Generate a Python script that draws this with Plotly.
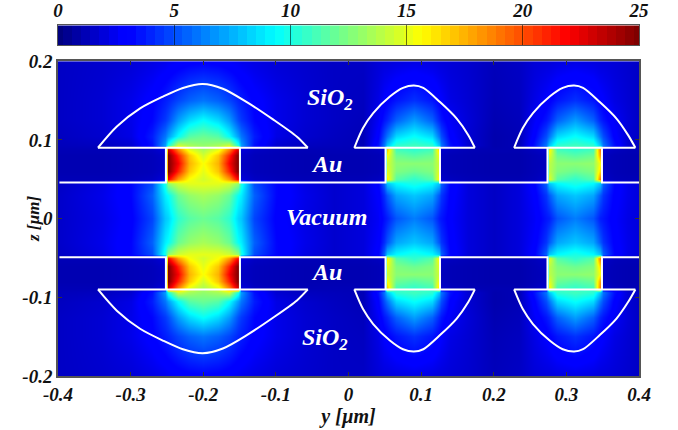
import numpy as np
import plotly.graph_objects as go

Y_COLS = [-0.40,-0.34,-0.30,-0.27,-0.252,-0.248,-0.235,-0.22,-0.20,-0.18,-0.165,-0.152,-0.148,-0.13,-0.10,-0.06,-0.02,
          0.02,0.04,0.049,0.053,0.065,0.09,0.115,0.124,0.128,0.14,0.165,0.20,
          0.235,0.255,0.272,0.276,0.287,0.312,0.337,0.346,0.350,0.365,0.385,0.40]
Z_ROWS = [0,0.03,0.045,0.05,0.06,0.07,0.08,0.088,0.093,0.105,0.125,0.15,0.2]
FIELD_TOP = [
 [1.6,2.2,3.0,4.8,8.0,8.4,10.5,11.5,12.0,11.5,10.5,8.4,8.0,4.8,3.0,2.2,1.7, 2.0,2.6,3.4,3.8,5.2,6.2,5.2,3.8,3.6,2.8,2.0,1.5, 2.0,2.6,3.6,3.8,5.2,6.2,5.2,3.8,3.6,2.8,2.2,2.0],
 [1.6,2.3,3.2,5.5,9,9.5,12,13,13.5,13,12,9.5,9,5.5,3.2,2.3,1.7, 2.0,2.8,4.2,5.2,7.2,8,7.2,5.2,4.4,3,2,1.5, 2,2.8,4.4,5.3,7.2,8,7.2,5.3,4.4,3,2.3,2],
 [1.5,2.2,3.2,5,10,13,14.5,15,15,15,14.5,13,10,5,3.2,2.2,1.7, 2,3,5.5,8,9.3,10,9.3,8,5.5,3.2,2,1.5, 2,3,5.5,8,9.3,10,9.3,8,5.5,3.2,2.3,2],
 [1.2,1.2,1.3,1.5,2,22,18,15.5,14.5,15.5,18,22,2,1.5,1.3,1.2,1.2, 1.2,1.4,1.6,16,11.5,10.5,11.5,16,1.6,1.4,1.2,1.1, 1.1,1.3,1.6,15,11.5,10.5,11.5,19,1.6,1.3,1.2,1.2],
 [1.1,1.1,1.2,1.3,1.6,25,21,17,15,17,21,25,1.6,1.3,1.2,1.1,1.1, 1.1,1.2,1.4,15,12.5,12,12.5,15,1.4,1.2,1.1,1.0, 1.0,1.2,1.4,14,12.5,12,12.5,16.5,1.4,1.2,1.1,1.1],
 [1.1,1.1,1.2,1.3,1.5,25,22,17.5,15.5,17.5,22,25,1.5,1.3,1.2,1.1,1.1, 1.1,1.2,1.3,14.5,12.8,12.8,12.8,14.5,1.3,1.2,1.1,1.0, 1.0,1.2,1.3,14,12.8,12.8,13,15.5,1.3,1.2,1.1,1.1],
 [1.1,1.1,1.2,1.3,1.6,25,21,17,14.5,17,21,25,1.6,1.3,1.2,1.1,1.1, 1.1,1.2,1.4,15.5,12,11.5,12,15.5,1.4,1.2,1.1,1.0, 1.0,1.2,1.4,15,12,11.5,12,18,1.4,1.2,1.1,1.1],
 [1.2,1.2,1.3,1.5,2,23,18.5,15,13.5,15,18.5,23,2,1.5,1.3,1.2,1.2, 1.2,1.4,1.7,17,11,10.5,11,17,1.7,1.4,1.2,1.1, 1.1,1.4,1.7,16,11,10.5,11,19,1.7,1.4,1.2,1.2],
 [1.3,1.4,1.8,3.5,7,10,14.5,13.5,13,13.5,14.5,10,7,3.5,1.8,1.4,1.3, 1.2,3.5,6,8,10.5,11,10.5,8,6,3.5,1.8,1.0, 1.2,3.5,6,8,10.5,11,10.5,8,6,3.5,1.8,1.5],
 [1.4,1.7,2.2,3.8,6,7,9.5,11.5,12,11.5,9.5,7,6,3.8,2.2,1.7,1.4, 1.2,3,5,6,8.5,9.5,8.5,6,5,3,1.8,1.0, 1.2,3,5,6,8.5,9.5,8.5,6,5,3,1.8,1.5],
 [1.5,1.8,2.3,3.2,4.5,5,7,8.5,9.5,8.5,7,5,4.5,3.2,2.3,1.8,1.5, 1.3,2.6,3.6,4,5.5,7,5.5,4,3.6,2.6,1.9,1.1, 1.3,2.6,3.6,4,5.5,7,5.5,4,3.6,2.6,1.9,1.5],
 [1.5,1.8,2.3,3,3.8,4,4.8,5.5,6,5.5,4.8,4,3.8,3,2.3,1.8,1.5, 1.4,2.2,2.8,3,3.6,4.3,3.6,3,2.8,2.2,1.8,1.2, 1.4,2.2,2.8,3,3.6,4.3,3.6,3,2.8,2.2,1.8,1.5],
 [1.5,1.7,1.9,2.2,2.4,2.5,2.7,2.9,3,2.9,2.7,2.5,2.4,2.2,1.9,1.7,1.5, 1.5,1.9,2,2,2.1,2.2,2.1,2,2,1.9,1.7,1.3, 1.5,1.9,2,2,2.1,2.2,2.1,2,2,1.9,1.7,1.5],
]

CAP1_Y = [-0.345,-0.319,-0.287,-0.2555,-0.228,-0.2008,-0.173,-0.140,-0.104,-0.071,-0.056]
CAP1_Z = [0.090,0.117,0.140,0.155,0.166,0.171,0.165,0.148,0.126,0.104,0.090]
CAP2_Y = [0.008,0.020,0.034,0.057,0.075,0.090,0.103,0.126,0.149,0.165,0.174]
CAP2_Z = [0.090,0.115,0.134,0.155,0.166,0.169,0.166,0.148,0.127,0.106,0.090]
CAP3_Y = [0.228,0.240,0.254,0.277,0.295,0.3106,0.323,0.346,0.369,0.385,0.395]
CAP3_Z = [0.090,0.115,0.134,0.155,0.166,0.169,0.166,0.148,0.127,0.106,0.090]
PILLARS = [(-0.2514,-0.1495),(0.051,0.126),(0.274,0.349)]
FILM_TOP = 0.046
FILM_BOT = -0.049
CAP_BASE = 0.090

X_TICKS = [-0.4,-0.3,-0.2,-0.1,0,0.1,0.2,0.3,0.4]
X_LABELS = ["-0.4","-0.3","-0.2","-0.1","0","0.1","0.2","0.3","0.4"]
Z_TICKS = [-0.2,-0.1,0,0.1,0.2]
Z_LABELS = ["-0.2","-0.1","0","0.1","0.2"]
CB_TICKS = [0,5,10,15,20,25]
CB_LEVELS = [i*25/63 for i in range(64)]
NOTES = [("SiO<sub>2</sub>",-0.025,0.152),("Au",-0.03,0.069),("Vacuum",-0.03,0.002),
         ("Au",-0.03,-0.068),("SiO<sub>2</sub>",-0.032,-0.153)]

JET = [[0,"#00007f"],[0.11,"#0000ff"],[0.125,"#0000ff"],[0.375,"#00ffff"],[0.5,"#7fff7f"],
       [0.625,"#ffff00"],[0.875,"#ff0000"],[1,"#7f0000"]]
FONT = "Liberation Serif"
def tf(s): return dict(family=FONT,size=s,color="#111",weight="bold",style="italic")

top = np.array(FIELD_TOP)
field = np.vstack([top[:0:-1],top])
zs = [-v for v in Z_ROWS[:0:-1]]+Z_ROWS

fig = go.Figure()
fig.add_trace(go.Heatmap(x=Y_COLS,y=zs,z=field,colorscale=JET,zmin=0,zmax=25,zsmooth="best",showscale=False,hoverinfo="skip"))
fig.add_trace(go.Heatmap(x=CB_LEVELS,y=[0,1],z=[CB_LEVELS,CB_LEVELS],colorscale=JET,zmin=0,zmax=25,showscale=False,xaxis="x2",yaxis="y2",hoverinfo="skip"))

line = dict(color="white",width=2)
curve = dict(color="white",width=2,shape="spline",smoothing=0.8)
for cy,cz in zip([CAP1_Y,CAP2_Y,CAP3_Y],[CAP1_Z,CAP2_Z,CAP3_Z]):
    for sign in (1,-1):
        fig.add_trace(go.Scatter(x=cy,y=[sign*v for v in cz],mode="lines",line=curve,showlegend=False,hoverinfo="skip"))
        fig.add_trace(go.Scatter(x=[cy[0],cy[-1]],y=[sign*cz[0],sign*cz[-1]],mode="lines",line=line,showlegend=False,hoverinfo="skip"))
for film,base in ((FILM_TOP,CAP_BASE),(FILM_BOT,-CAP_BASE)):
    xs=[-0.398]; ys=[film]
    for a,b in PILLARS:
        xs+=[a,a,None,b,b]; ys+=[film,base,None,base,film]
    xs.append(0.4); ys.append(film)
    fig.add_trace(go.Scatter(x=xs,y=ys,mode="lines",line=line,showlegend=False,hoverinfo="skip"))

for t,x,y in NOTES:
    fig.add_annotation(x=x,y=y,text=t,showarrow=False,font=dict(family=FONT,size=24,color="white",weight="bold",style="italic"))
fig.add_annotation(xref="paper",yref="y",x=-0.062,y=0,text="z [µm]",textangle=-90,showarrow=False,font=tf(17))

axis_line = dict(showline=True,linecolor="#555",linewidth=1.5,mirror="ticks",ticks="inside",ticklen=4,tickcolor="#333",showgrid=False,zeroline=False)
fig.update_layout(
    width=678,height=430,margin=dict(l=58,r=39,t=0,b=54),paper_bgcolor="white",plot_bgcolor="white",showlegend=False,
    xaxis=dict(domain=[0,1],range=[-0.4,0.4],tickvals=X_TICKS,ticktext=X_LABELS,tickfont=tf(19),
               title=dict(text="y [µm]",font=tf(20),standoff=0),**axis_line),
    yaxis=dict(domain=[0,0.8649],range=[-0.2,0.2],tickvals=Z_TICKS,ticktext=Z_LABELS,tickfont=tf(19),**axis_line),
    xaxis2=dict(domain=[0,1],range=[0,25],anchor="y2",side="top",tickvals=CB_TICKS,tickfont=tf(19),ticks="inside",ticklen=20,
                tickcolor="rgba(0,0,0,0.55)",tickwidth=1,showline=True,linecolor="#555",mirror=True,showgrid=False,zeroline=False),
    yaxis2=dict(domain=[0.9086,0.9632],range=[0,1],anchor="x2",showticklabels=False,ticks="",showgrid=False,zeroline=False,
                showline=True,linecolor="#555",mirror=True),
)
fig.write_html("out.html",post_script="document.body.style.margin='0';",config=dict(displayModeBar=False))
